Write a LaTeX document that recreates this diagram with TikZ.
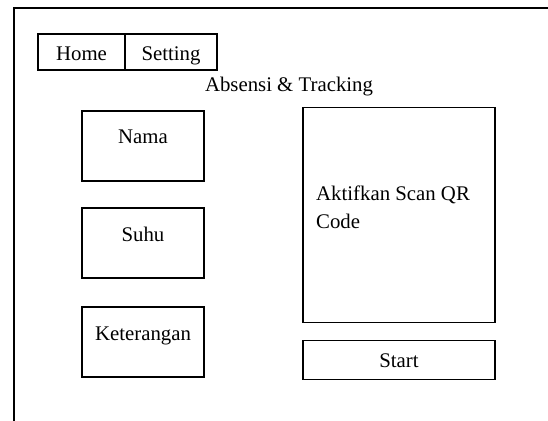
\documentclass[tikz,border=0pt]{standalone}
\usepackage{fontspec}
\setmainfont{Liberation Serif}
\begin{document}
\begin{tikzpicture}
            \tikzset{x=1pt, y=-1pt}
            \tikzstyle{box}=[rectangle, draw, line width=1.2pt, inner sep=0pt]
            \tikzstyle{txt}=[inner sep=0pt, text height=14pt, text depth=4pt, font=\fontsize{20.8}{28}\selectfont]

            \clip (0,0) rectangle (548,420);
            \draw[line width=1.2pt] (14,8) rectangle (600,460);

            \draw (81.5, 52)    node[box, minimum width=87pt, minimum height=36pt]    (home)   {};
            \draw (171, 52)     node[box, minimum width=92pt, minimum height=36pt]    (set)    {};
            \draw (81.5, 55)    node[txt]   (thome)   {Home};
            \draw (171, 55)     node[txt]   (tset)    {Setting};
            \draw (289, 86)     node[txt]   (title)   {Absensi \& Tracking};

            \draw (143, 146)    node[box, minimum width=122pt, minimum height=70pt]   (nama)   {};
            \draw (143, 243)    node[box, minimum width=122pt, minimum height=70pt]   (suhu)   {};
            \draw (143, 342)    node[box, minimum width=122pt, minimum height=70pt]   (ket)    {};
            \draw (143, 138)    node[txt]   (tnama)   {Nama};
            \draw (143, 236)    node[txt]   (tsuhu)   {Suhu};
            \draw (143, 335)    node[txt]   (tket)    {Keterangan};

            \draw (399, 215)    node[box, minimum width=192pt, minimum height=215pt]  (qr)     {};
            \draw (399, 360)    node[box, minimum width=192pt, minimum height=39pt]   (start)  {};
            \draw (316, 207)    node[inner sep=0pt, font=\fontsize{20.8}{28}\selectfont, anchor=west, align=left]   (tqr)   {Aktifkan Scan QR\\Code};
            \draw (399, 362)    node[txt]   (tstart)  {Start};
        \end{tikzpicture}
\end{document}
